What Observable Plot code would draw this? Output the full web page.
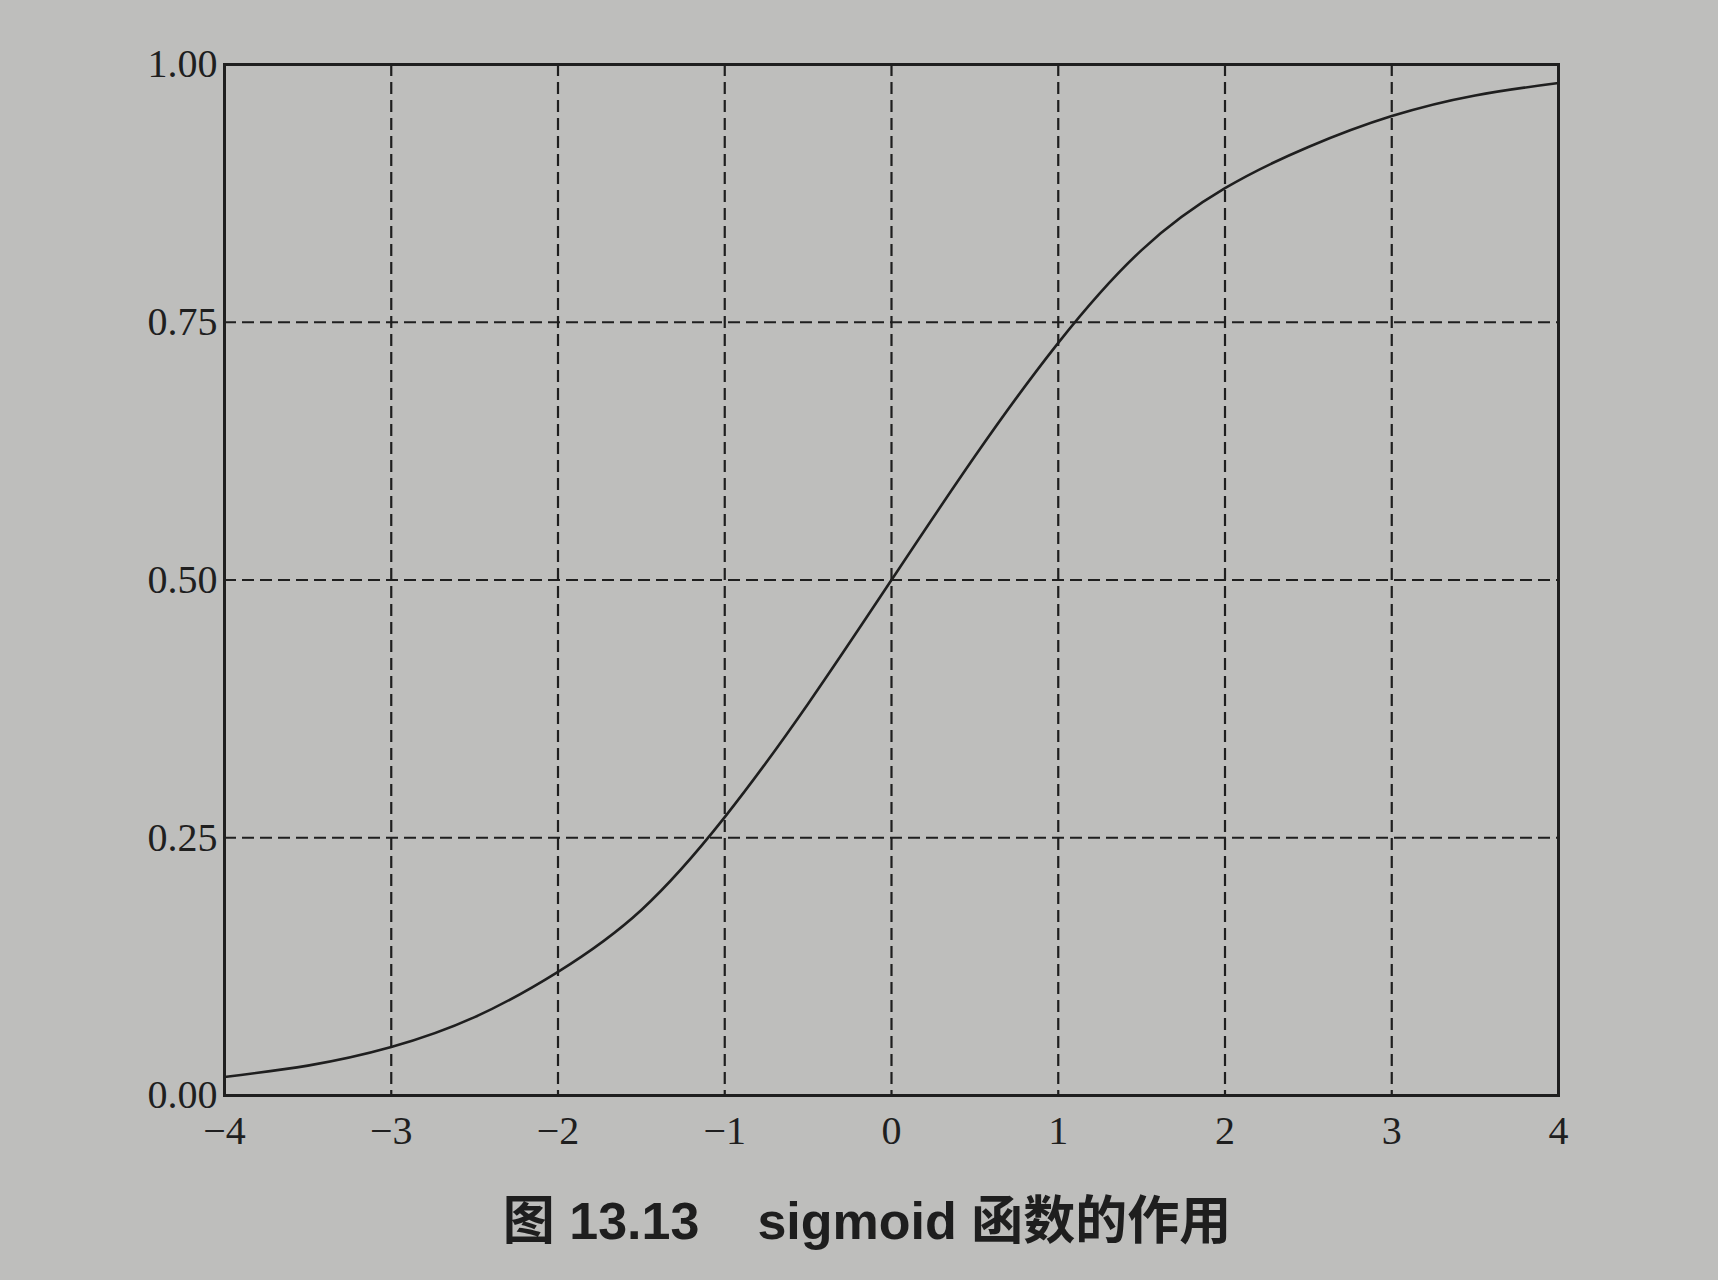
<!DOCTYPE html>
<html>
<head>
<meta charset="utf-8">
<script src="https://cdn.jsdelivr.net/npm/d3@7"></script>
<script src="https://cdn.jsdelivr.net/npm/@observablehq/plot@0.6"></script>
<style>
  html, body { margin: 0; padding: 0; background: #bebebc; }
  body { width: 1718px; height: 1280px; overflow: hidden; }
  #chart svg { display: block; background: transparent; }
  #caption {
    font-family: "Liberation Sans", "Noto Sans CJK SC", sans-serif;
    font-weight: bold;
    font-size: 52px;
    color: #1e1e1e;
    text-align: center;
    width: 1718px;
    margin-left: 8px;
    margin-top: 26px;
    line-height: 1;
  }
  #caption .cjk { font-family: "Noto Sans CJK SC", sans-serif; }
</style>
</head>
<body>
<div id="chart"></div>
<div id="caption"><span class="cjk">图</span> 13.13<span style="display:inline-block;width:58px"></span>sigmoid <span class="cjk">函数的作用</span></div>
<script>
// values
const xs = [-4, -3.5, -3, -2.5, -2, -1.5, -1, -0.5, 0, 0.5, 1, 1.5, 2, 2.5, 3, 3.5, 4];
const ys = [0.018, 0.029, 0.047, 0.076, 0.12, 0.18, 0.27, 0.38, 0.50, 0.62, 0.73, 0.82, 0.88, 0.92, 0.95, 0.97, 0.982];
const xTicks = [-4, -3, -2, -1, 0, 1, 2, 3, 4];
const yTicks = [0, 0.25, 0.5, 0.75, 1];
const xGrid = [-3, -2, -1, 0, 1, 2, 3];
const yGrid = [0.25, 0.5, 0.75];

const curve = xs.map((x, i) => ({x, y: ys[i]}));
const ink = "#1f1f1f";

const chart = Plot.plot({
  width: 1718,
  height: 1165,
  marginTop: 64,
  marginBottom: 70,
  marginLeft: 224,
  marginRight: 160,
  style: {background: "transparent", color: ink},
  x: {domain: [-4, 4]},
  y: {domain: [0, 1]},
  marks: [
    Plot.ruleX(xGrid, {stroke: ink, strokeWidth: 2.2, strokeDasharray: "12,6"}),
    Plot.ruleY(yGrid, {stroke: ink, strokeWidth: 2.2, strokeDasharray: "12,6"}),
    Plot.line(curve, {x: "x", y: "y", stroke: ink, strokeWidth: 2.6, curve: "natural"}),
    Plot.frame({stroke: ink, strokeWidth: 3}),
    Plot.axisX({ticks: xTicks, tickSize: 0, tickPadding: 20, fontSize: 40, fontFamily: "Liberation Serif", label: null}),
    Plot.axisY({ticks: yTicks, tickSize: 0, tickPadding: 7, fontSize: 40, fontFamily: "Liberation Serif", tickFormat: d3.format(".2f"), label: null})
  ]
});
document.getElementById("chart").appendChild(chart);
</script>
</body>
</html>
